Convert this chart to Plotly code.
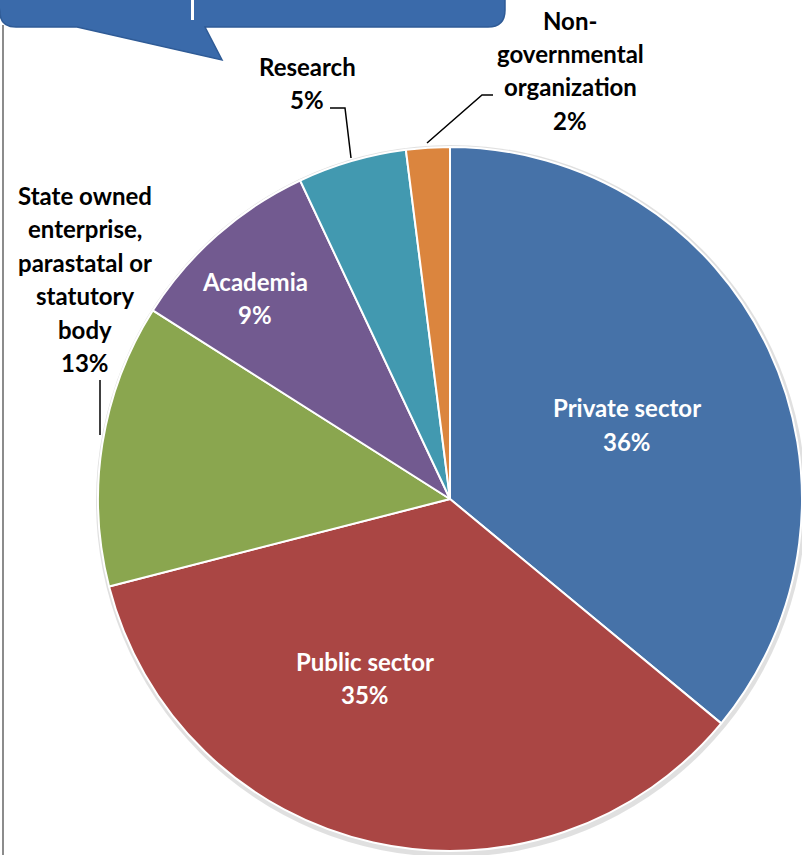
import plotly.graph_objects as go

W, H = 802, 855

# ---- data ----
categories = ["Private sector", "Public sector",
              "State owned enterprise, parastatal or statutory body",
              "Academia", "Research", "Non-governmental organization"]
values = [36, 35, 13, 9, 5, 2]
colors = ["#4672A8", "#AA4644", "#8AA64F", "#725A90", "#4299B0", "#DB853E"]
# how each label is wrapped in the picture
label_lines = [["Private sector"], ["Public sector"],
               ["State owned", "enterprise,", "parastatal or", "statutory", "body"],
               ["Academia"], ["Research"], ["Non-", "governmental", "organization"]]

# label placement (pixel positions of first line center) and style
label_pos = [(627, 408), (365, 661), (85, 195), (255, 281), (307, 66), (570, 20)]
inside = [True, True, False, True, False, False]
line_gap = 33.5


def px(x):
    return x / W


def py(y):
    return 1 - y / H


fig = go.Figure()
fig.add_trace(go.Pie(
    labels=categories, values=values, sort=False, direction="clockwise",
    rotation=0, textinfo="none", hoverinfo="label+percent",
    marker=dict(colors=colors, line=dict(color="white", width=2)),
    domain=dict(x=[98 / W, 1.0], y=[4 / H, 708 / H]),
    showlegend=False,
))

annotations = []
for i, cat in enumerate(categories):
    lines = label_lines[i] + [f"{values[i]}%"]
    x0, y0 = label_pos[i]
    col = "white" if inside[i] else "black"
    for k, ln in enumerate(lines):
        annotations.append(dict(
            x=px(x0), y=py(y0 + k * line_gap), xref="paper", yref="paper",
            text=f"<b>{ln}</b>", showarrow=False, xanchor="center", yanchor="middle",
            font=dict(family="Lato", size=24, color=col)))

shapes = []
# pie soft shadow
shapes.append(dict(type="circle", xref="paper", yref="paper", layer="below",
                   x0=px(96), x1=px(806), y0=py(145), y1=py(857),
                   fillcolor="rgba(0,0,0,0.12)", line=dict(width=0)))
# left border
shapes.append(dict(type="line", xref="paper", yref="paper",
                   x0=px(3), x1=px(3), y0=py(25), y1=py(H),
                   line=dict(color="#8C8C8C", width=2)))
# callout bubble
def P(x, y):
    return f"{px(x)},{py(y)}"

bubble = ("M " + P(-10, -40) + " L " + P(505, -40) + " L " + P(505, 10) +
          " Q " + P(505, 27) + " " + P(488, 27) +
          " L " + P(205, 27) + " L " + P(222, 60) + " L " + P(77, 27) +
          " L " + P(16, 27) + " Q " + P(0, 27) + " " + P(0, 12) + " Z")
shapes.append(dict(type="path", xref="paper", yref="paper", path=bubble,
                   fillcolor="#3A6AAA", line=dict(color="#2F5B96", width=1.5)))
shapes.append(dict(type="rect", xref="paper", yref="paper",
                   x0=px(191), x1=px(194), y0=py(0), y1=py(20),
                   fillcolor="white", line=dict(width=0)))
# leader lines
leaders = [
    [(100, 380), (100, 435)],
    [(330, 108), (345, 108), (351, 158)],
    [(493, 95), (482, 95), (427, 143)],
]
for pts in leaders:
    path = "M " + " L ".join(P(x, y) for x, y in pts)
    shapes.append(dict(type="path", xref="paper", yref="paper", path=path,
                       line=dict(color="black", width=1.5)))

fig.update_layout(
    width=W, height=H, margin=dict(l=0, r=0, t=0, b=0),
    paper_bgcolor="white", plot_bgcolor="white",
    annotations=annotations, shapes=shapes,
)

fig.write_html("out.html")
